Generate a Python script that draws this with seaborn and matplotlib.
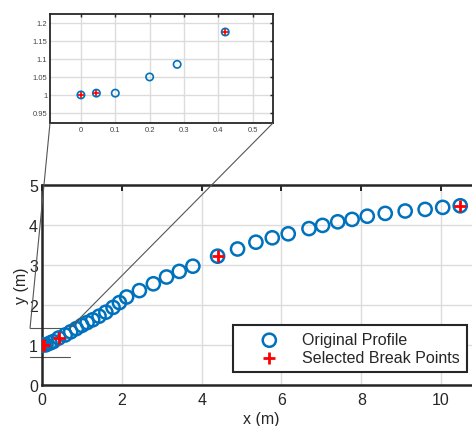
import matplotlib
matplotlib.use("Agg")
import matplotlib.pyplot as plt
import numpy as np
import seaborn as sns
from matplotlib.patches import ConnectionPatch

# Original profile points (m)
profile_x = [0.0, 0.045, 0.10, 0.20, 0.28, 0.42, 0.58, 0.72, 0.86, 1.00, 1.13, 1.27,
             1.43, 1.60, 1.78, 1.94, 2.12, 2.44, 2.79, 3.12, 3.44, 3.78, 4.40, 4.90,
             5.36, 5.77, 6.17, 6.69, 7.03, 7.41, 7.77, 8.15, 8.60, 9.10, 9.60, 10.04, 10.48]
profile_y = [1.0, 1.005, 1.005, 1.05, 1.085, 1.175, 1.25, 1.33, 1.41, 1.49, 1.56, 1.63,
             1.72, 1.82, 1.94, 2.06, 2.20, 2.36, 2.53, 2.70, 2.84, 2.97, 3.22, 3.40,
             3.57, 3.68, 3.78, 3.91, 3.99, 4.08, 4.14, 4.22, 4.29, 4.35, 4.39, 4.44, 4.48]

# Selected break points (m)
break_x = [0.0, 0.045, 0.42, 4.40, 10.48]
break_y = [1.0, 1.005, 1.175, 3.22, 4.48]

main_xticks = [0, 2, 4, 6, 8, 10]
main_yticks = [0, 1, 2, 3, 4, 5]
inset_xticks = [0, 0.1, 0.2, 0.3, 0.4, 0.5]
inset_yticks = [0.95, 1.0, 1.05, 1.1, 1.15, 1.2]
inset_xlabels = ["0", "0.1", "0.2", "0.3", "0.4", "0.5"]
inset_ylabels = ["0.95", "1", "1.05", "1.1", "1.15", "1.2"]

BLUE = "#0072BD"
DARK = "#262626"
GRID = "#dcdcdc"
LINE = "#555555"

sns.set_style("white")
plt.rcParams["font.family"] = ["Liberation Sans", "DejaVu Sans"]

fig = plt.figure(figsize=(4.72, 4.27), dpi=100)
W, H = 472, 427


def style_axes(ax, spine_width, tick_size, label_size, pad):
    for side in ["top", "bottom", "left", "right"]:
        ax.spines[side].set_visible(True)
        ax.spines[side].set_linewidth(spine_width)
        ax.spines[side].set_color(DARK)
    ax.tick_params(direction="in", top=True, right=True, length=tick_size,
                   width=spine_width * 0.8, colors=DARK, labelsize=label_size, pad=pad)
    ax.grid(True, color=GRID, linewidth=1.0)
    ax.set_axisbelow(True)


# main axes
ax = fig.add_axes([42 / W, (H - 386) / H, (481 - 42) / W, 200 / H])
sns.scatterplot(x=profile_x, y=profile_y, ax=ax, marker="o", s=90,
                facecolors="none", edgecolors=BLUE, linewidth=1.8,
                label="Original Profile", zorder=3)
sns.scatterplot(x=break_x, y=break_y, ax=ax, marker="+", s=80, color="red",
                linewidth=2.0, label="Selected Break Points", zorder=4)
ax.set_xlim(0, 11)
ax.set_ylim(0, 5)
ax.set_xticks(main_xticks)
ax.set_yticks(main_yticks)
style_axes(ax, 1.8, 4, 11.5, 5)
ax.tick_params(axis="y", pad=3)
ax.set_xlabel("x (m)", fontsize=11.5, color=DARK, labelpad=3)
ax.set_ylabel("y (m)", fontsize=11.5, color=DARK, labelpad=0)

leg = ax.legend(loc="lower right", bbox_to_anchor=(467 / W, (H - 373) / H),
                bbox_transform=fig.transFigure, borderaxespad=0, fontsize=11.5,
                frameon=True, fancybox=False, edgecolor=DARK, framealpha=1,
                handletextpad=0.25, borderpad=0.45, labelspacing=0.15, handlelength=3.6)
leg.get_frame().set_linewidth(1.5)
for t in leg.get_texts():
    t.set_color(DARK)

# zoom indicator on main axes
rect_x = [-0.30, 0.70]
ax.plot(rect_x, [1.42, 1.42], color=LINE, lw=0.8, clip_on=False, zorder=2)
ax.plot(rect_x, [0.69, 0.69], color=LINE, lw=0.8, clip_on=False, zorder=2)

# inset axes
ins = fig.add_axes([50 / W, (H - 124) / H, 223 / W, 109 / H])
sns.scatterplot(x=profile_x[:6], y=profile_y[:6], ax=ins, marker="o", s=28,
                facecolors="none", edgecolors=BLUE, linewidth=1.2, zorder=3)
sns.scatterplot(x=break_x[:3], y=break_y[:3], ax=ins, marker="+", s=24, color="red",
                linewidth=1.2, zorder=4)
ins.set_xlim(-0.09, 0.559)
ins.set_ylim(0.922, 1.225)
ins.set_xticks(inset_xticks)
ins.set_xticklabels(inset_xlabels)
ins.set_yticks(inset_yticks)
ins.set_yticklabels(inset_ylabels)
style_axes(ins, 1.3, 2.5, 5.5, 2)
for t in ins.get_xticklabels() + ins.get_yticklabels():
    t.set_color("#444444")

for xa, xb in [(0, rect_x[0]), (1, rect_x[1])]:
    con = ConnectionPatch(xyA=(xa, 0), coordsA=ins.transAxes,
                          xyB=(xb, 1.42), coordsB=ax.transData,
                          color=LINE, lw=0.8, zorder=2)
    fig.add_artist(con)

fig.savefig("out.png", dpi=100)
